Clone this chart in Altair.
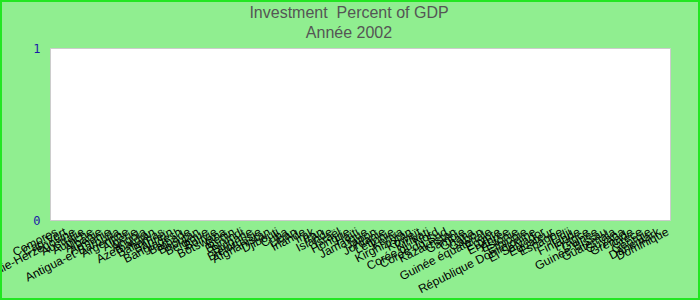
import altair as alt
import pandas as pd

title_lines = ["Investment\u00a0 Percent of GDP", "Année 2002"]

countries = [
    "Comores", "Cap-Vert", "Bosnie-Herzégovine", "Australie", "Autriche", "Albanie",
    "Arménie", "Antigua-et-Barbuda", "Argentine", "Algérie", "Angola", "Azerbaïdjan",
    "Bahamas", "Bahreïn", "Bangladesh", "Barbade", "Bhoutan", "Belgique", "Bolivie",
    "Botswana", "Bénin", "Burundi", "Bulgarie", "Biélorussie", "Afghanistan", "Djibouti",
    "Cuba", "Liban", "Irlande", "Irak", "Iran", "Islande", "Israël", "Hongrie", "Haïti",
    "Jamaïque", "Japon", "Jordanie", "Lettonie", "Kenya", "Kirghizistan", "Koweït",
    "Kiribati", "Corée du Nord", "Corée du Sud", "Kazakhstan", "Gambie", "Ghana", "Gabon",
    "Guinée équatoriale", "Égypte", "Érythrée", "Estonie", "Éthiopie",
    "République Dominicaine", "El Salvador", "Équateur", "Espagne", "Fidji", "Finlande",
    "France", "Guinée", "Guinée-Bissau", "Guatemala", "Guyana", "Grenade", "Grèce",
    "Géorgie", "Danemark", "Dominique",
]
values = [0] * len(countries)

df = pd.DataFrame({"pays": countries, "valeur": values})

bars = alt.Chart(df).mark_bar(color="#3366cc").encode(
    x=alt.X("pays:N", sort=None, title=None,
            axis=alt.Axis(labelAngle=-27, labelFontSize=12, labelFont="Liberation Sans",
                          labelColor="#000000", ticks=False, domain=False, labelPadding=6,
                          labelOverlap=False, labelLimit=0)),
    y=alt.Y("valeur:Q", title=None, scale=alt.Scale(domain=[0, 1]),
            axis=alt.Axis(values=[0, 1], format="d", grid=False, ticks=False, domain=False,
                          labelFont="DejaVu Sans Mono", labelFontSize=12,
                          labelColor="#1a1aa6", labelPadding=10)),
)

tdf = pd.DataFrame({"t": title_lines})
title1 = alt.Chart(tdf.iloc[[0]]).mark_text(
    font="Liberation Sans", fontSize=16, color="#555555", baseline="middle", align="center"
).encode(text="t:N", x=alt.value(299), y=alt.value(-35))
title2 = alt.Chart(tdf.iloc[[1]]).mark_text(
    font="Liberation Sans", fontSize=16, color="#555555", baseline="middle", align="center"
).encode(text="t:N", x=alt.value(299), y=alt.value(-15))

border = alt.Chart(pd.DataFrame({"a": [0]})).mark_rect(
    filled=False, stroke="#22e622", strokeWidth=2
).encode(
    x=alt.value(-49), x2=alt.value(649), y=alt.value(-47), y2=alt.value(251)
)

chart = alt.layer(bars, title1, title2, border).properties(
    width=620, height=172,
    autosize=alt.AutoSizeParams(type="none"),
    padding={"left": 50, "top": 48, "right": 30, "bottom": 80},
    background="#90EE90",
).configure_view(fill="white", stroke="#cccccc")

chart.save("out.html", embed_options={"renderer": "svg", "actions": False})
